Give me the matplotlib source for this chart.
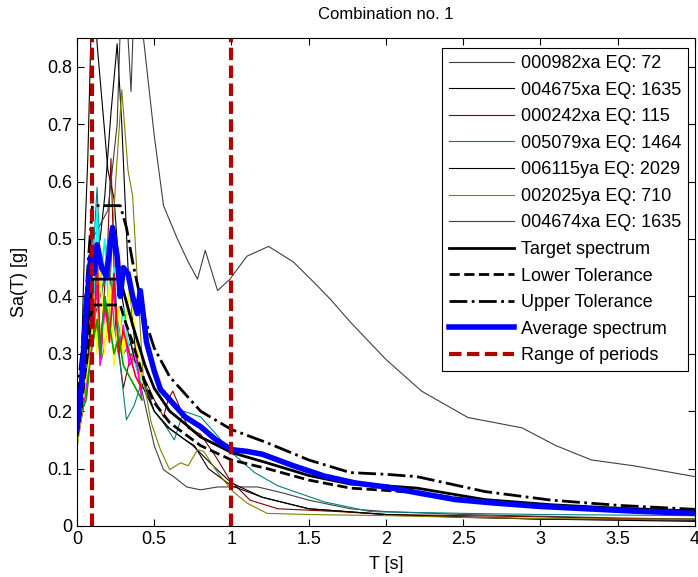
# Response spectra of the selected records, combination no. 1

import matplotlib
matplotlib.use('Agg')
import matplotlib.pyplot as plt

plt.rcParams['font.family'] = ['Liberation Sans', 'DejaVu Sans']

# record spectra
T_000982 = [0, 0.05, 0.1, 0.15, 0.2, 0.25, 0.3, 0.35, 0.4, 0.45, 0.5, 0.56, 0.63, 0.71, 0.8, 0.91,
            1.01, 1.17, 1.34, 1.5, 1.77, 2.0, 2.5, 3.0, 3.5, 4.0]
Sa_000982 = [0.14, 0.25, 0.35, 0.40, 0.45, 0.38, 0.30, 0.32, 0.26, 0.20, 0.14, 0.098, 0.085, 0.068,
             0.063, 0.068, 0.068, 0.068, 0.057, 0.045, 0.030, 0.025, 0.020, 0.017, 0.014, 0.012]

T_004675 = [0, 0.03, 0.05, 0.07, 0.085, 0.1, 0.12, 0.13, 0.17, 0.2, 0.24, 0.28, 0.32, 0.38, 0.43,
            0.5, 0.6, 0.75, 0.9, 1.0, 1.2, 1.5, 2.0, 3.0, 4.0]
Sa_004675 = [0.15, 0.30, 0.50, 0.64, 0.80, 0.95, 0.90, 0.84, 0.715, 0.62, 0.57, 0.42, 0.35, 0.28,
             0.24, 0.20, 0.17, 0.14, 0.10, 0.075, 0.05, 0.03, 0.02, 0.012, 0.008]

T_000242 = [0, 0.05, 0.1, 0.15, 0.2, 0.22, 0.25, 0.3, 0.35, 0.4, 0.45, 0.5, 0.56, 0.59, 0.62, 0.66,
            0.72, 0.8, 0.9, 0.99, 1.12, 1.3, 1.7, 2.0, 2.5, 3.0, 3.5, 4.0]
Sa_000242 = [0.14, 0.22, 0.40, 0.30, 0.50, 0.64, 0.35, 0.24, 0.30, 0.27, 0.25, 0.22, 0.19, 0.22,
             0.235, 0.21, 0.17, 0.16, 0.12, 0.08, 0.045, 0.03, 0.025, 0.02, 0.018, 0.016, 0.013, 0.012]

T_005079 = [0, 0.05, 0.1, 0.13, 0.16, 0.2, 0.24, 0.28, 0.32, 0.37, 0.43, 0.5, 0.56, 0.63, 0.69, 0.8,
            0.9, 1.0, 1.15, 1.3, 1.6, 1.9, 2.5, 3.0, 3.5, 4.0]
Sa_005079 = [0.15, 0.25, 0.45, 0.59, 0.40, 0.50, 0.35, 0.28, 0.185, 0.21, 0.26, 0.20, 0.18, 0.15,
             0.20, 0.19, 0.16, 0.128, 0.093, 0.07, 0.042, 0.025, 0.022, 0.02, 0.019, 0.018]

T_006115 = [0, 0.05, 0.1, 0.15, 0.18, 0.22, 0.26, 0.29, 0.33, 0.38, 0.43, 0.5, 0.58, 0.7, 0.76,
            0.85, 1.0, 1.2, 1.5, 2.0, 2.5, 3.0, 4.0]
Sa_006115 = [0.13, 0.30, 0.45, 0.50, 0.575, 0.72, 0.84, 0.70, 0.45, 0.30, 0.25, 0.20, 0.173, 0.15,
             0.14, 0.10, 0.07, 0.05, 0.03, 0.02, 0.015, 0.012, 0.01]

T_002025 = [0, 0.05, 0.1, 0.13, 0.16, 0.19, 0.22, 0.25, 0.29, 0.33, 0.36, 0.39, 0.43, 0.48, 0.54,
            0.6, 0.67, 0.72, 0.78, 0.82, 0.91, 1.01, 1.1, 1.23, 1.5, 2.0, 2.5, 3.0, 3.5, 4.0]
Sa_002025 = [0.15, 0.22, 0.35, 0.42, 0.29, 0.33, 0.45, 0.60, 0.76, 0.62, 0.575, 0.43, 0.255, 0.18,
             0.133, 0.098, 0.11, 0.105, 0.133, 0.13, 0.093, 0.06, 0.04, 0.022, 0.02, 0.018, 0.015,
             0.013, 0.012, 0.012]

T_004674 = [0, 0.05, 0.1, 0.14, 0.2, 0.26, 0.29, 0.32, 0.35, 0.37, 0.4, 0.43, 0.5, 0.56, 0.65, 0.72,
            0.78, 0.83, 0.91, 0.99, 1.1, 1.24, 1.4, 1.55, 1.64, 1.77, 2.0, 2.23, 2.53, 2.88, 3.1,
            3.33, 3.6, 4.0]
Sa_004674 = [0.16, 0.30, 0.50, 0.52, 0.55, 0.70, 0.95, 0.90, 0.757, 0.92, 1.0, 0.85, 0.68, 0.558,
             0.50, 0.46, 0.43, 0.48, 0.41, 0.43, 0.47, 0.487, 0.46, 0.42, 0.395, 0.355, 0.29, 0.235,
             0.189, 0.171, 0.14, 0.115, 0.105, 0.086]

# short-period parts drawn in bright colours
T_bright = [0, 0.03, 0.06, 0.09, 0.11, 0.13, 0.15, 0.18, 0.21, 0.24, 0.27, 0.3, 0.34, 0.38, 0.42]
Sa_cyan = [0.18, 0.22, 0.30, 0.45, 0.38, 0.55, 0.42, 0.50, 0.36, 0.45, 0.32, 0.38, 0.30, 0.28, 0.25]
Sa_magenta = [0.15, 0.20, 0.24, 0.30, 0.36, 0.42, 0.28, 0.38, 0.33, 0.42, 0.30, 0.35, 0.28, 0.30, 0.22]
Sa_yellow = [0.14, 0.20, 0.26, 0.30, 0.40, 0.30, 0.45, 0.30, 0.42, 0.28, 0.38, 0.30, 0.42, 0.33, 0.25]
Sa_red = [0.16, 0.25, 0.35, 0.50, 0.33, 0.48, 0.30, 0.40, 0.32, 0.44, 0.30, 0.34, 0.30, 0.26, 0.24]
Sa_green = [0.16, 0.20, 0.22, 0.30, 0.33, 0.36, 0.30, 0.40, 0.35, 0.30, 0.33, 0.28, 0.26, 0.24, 0.22]

# target spectrum and tolerances
T_target = [0, 0.03, 0.07, 0.1, 0.28, 0.32, 0.36, 0.44, 0.5, 0.6, 0.7, 0.8, 1.0, 1.23, 1.5, 1.77,
            2.0, 2.2, 2.64, 3.07, 3.5, 4.0]
Sa_target = [0.17, 0.23, 0.35, 0.43, 0.43, 0.39, 0.35, 0.28, 0.24, 0.20, 0.178, 0.155, 0.128, 0.11,
             0.088, 0.073, 0.07, 0.066, 0.046, 0.037, 0.031, 0.026]
Sa_upper = [0.22, 0.30, 0.45, 0.558, 0.558, 0.52, 0.46, 0.36, 0.31, 0.26, 0.23, 0.20, 0.168, 0.145,
            0.115, 0.093, 0.09, 0.086, 0.06, 0.045, 0.036, 0.029]
Sa_lower = [0.155, 0.21, 0.31, 0.385, 0.385, 0.35, 0.32, 0.25, 0.215, 0.18, 0.16, 0.14, 0.115,
            0.10, 0.08, 0.066, 0.062, 0.058, 0.042, 0.034, 0.028, 0.024]

T_avg = [0, 0.03, 0.06, 0.09, 0.11, 0.13, 0.16, 0.19, 0.23, 0.26, 0.28, 0.3, 0.33, 0.36, 0.39, 0.41,
         0.45, 0.5, 0.54, 0.6, 0.7, 0.8, 0.9, 1.0, 1.1, 1.2, 1.4, 1.6, 1.8, 2.0, 2.2, 2.45, 2.7, 3.0,
         3.3, 3.6, 4.0]
Sa_avg = [0.17, 0.25, 0.38, 0.47, 0.44, 0.49, 0.45, 0.435, 0.52, 0.47, 0.40, 0.45, 0.44, 0.40, 0.37,
          0.41, 0.32, 0.27, 0.238, 0.22, 0.19, 0.173, 0.15, 0.133, 0.13, 0.125, 0.105, 0.087, 0.075,
          0.068, 0.058, 0.046, 0.04, 0.034, 0.03, 0.026, 0.022]

period_range = [0.1, 1.0]

records = [
    (T_000982, Sa_000982, '#404040', '000982xa EQ: 72'),
    (T_004675, Sa_004675, '#000000', '004675xa EQ: 1635'),
    (T_000242, Sa_000242, '#800000', '000242xa EQ: 115'),
    (T_005079, Sa_005079, '#008080', '005079xa EQ: 1464'),
    (T_006115, Sa_006115, '#000000', '006115ya EQ: 2029'),
    (T_002025, Sa_002025, '#808000', '002025ya EQ: 710'),
    (T_004674, Sa_004674, '#404040', '004674xa EQ: 1635'),
]
bright = [(Sa_cyan, '#00ffff'), (Sa_magenta, '#ff00ff'), (Sa_yellow, '#ffff00'),
          (Sa_red, '#ff0000'), (Sa_green, '#00a000')]


def main():
    fig = plt.figure(figsize=(6.98, 5.77), dpi=100)
    ax = fig.add_axes([0.1103, 0.0884, 0.8854, 0.8457])

    for T, Sa, c, name in records:
        ax.plot(T, Sa, color=c, lw=0.8, label=name)
    for Sa, c in bright:
        ax.plot(T_bright, Sa, color=c, lw=1.2, label='_nolegend_')

    ax.plot(T_target, Sa_target, 'k-', lw=2, label='Target spectrum')
    ax.plot(T_target, Sa_lower, 'k--', lw=2, label='Lower Tolerance')
    ax.plot(T_target, Sa_upper, 'k-.', lw=2, label='Upper Tolerance')
    ax.plot(T_avg, Sa_avg, color='#0000ff', lw=4, label='Average spectrum')
    for i, t in enumerate(period_range):
        ax.plot([t, t], [0, 1], color='#b00000', lw=3, ls=(0, (3, 1.3)),
                label='Range of periods' if i == 0 else '_nolegend_')

    ax.set_xlim(0, 4)
    ax.set_ylim(0, 0.85)
    ax.set_xticks([0, 0.5, 1, 1.5, 2, 2.5, 3, 3.5, 4])
    ax.set_xticklabels(['0', '0.5', '1', '1.5', '2', '2.5', '3', '3.5', '4'])
    ax.set_yticks([0, 0.1, 0.2, 0.3, 0.4, 0.5, 0.6, 0.7, 0.8])
    ax.set_yticklabels(['0', '0.1', '0.2', '0.3', '0.4', '0.5', '0.6', '0.7', '0.8'])
    ax.tick_params(direction='in', top=True, right=True, length=5, width=0.8, labelsize=13)
    for s in ax.spines.values():
        s.set_linewidth(0.8)

    ax.set_xlabel('T [s]', fontsize=13, labelpad=6)
    ax.set_ylabel('Sa(T) [g]', fontsize=13, labelpad=14)
    ax.set_title('Combination no. 1', fontsize=12, pad=14)

    leg = ax.legend(loc='upper right', bbox_to_anchor=(0.989, 0.98), borderaxespad=0,
                    fontsize=13, handlelength=3.6, handletextpad=0.35, labelspacing=0.53,
                    fancybox=False, edgecolor='black', framealpha=1, borderpad=0.4)
    leg.get_frame().set_linewidth(0.8)

    fig.savefig('out.png', dpi=100)


if __name__ == '__main__':
    main()
